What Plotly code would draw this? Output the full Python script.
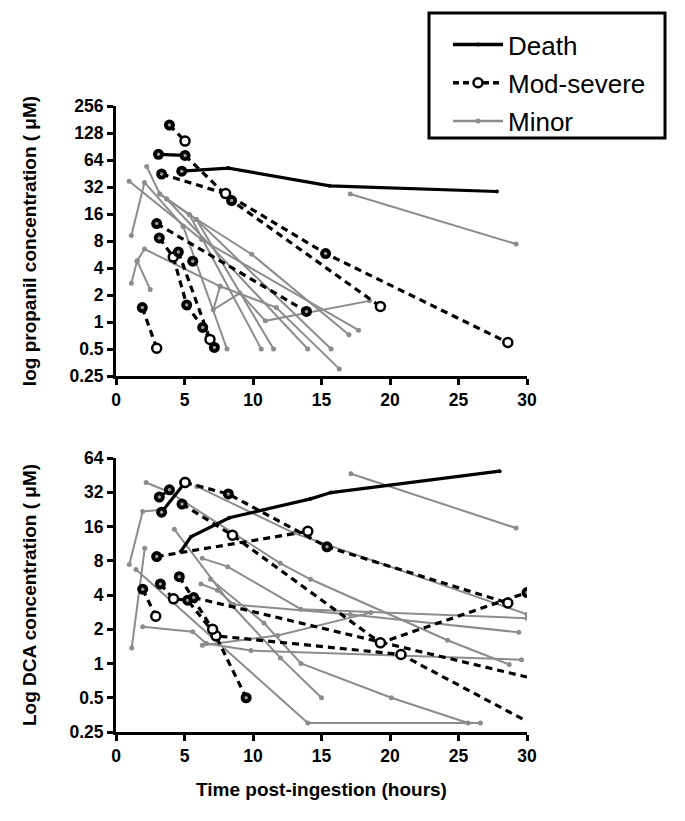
import plotly.graph_objects as go

# ---------------- data: top panel (propanil, uM) ----------------
death_top_t = [[4.8, 8.2, 15.6, 27.8], [3.1, 5.04]]
death_top_v = [[48, 52, 33, 28.5], [74, 72]]
death_top_m = [["f", "d", "d", "d"], ["f", "f"]]

mod_top_t = [[3.9, 5.04], [5.04, 8.44, 19.3], [3.33, 8.0, 15.3, 28.6], [2.97, 13.9],
             [1.92, 2.97], [3.16, 4.18, 5.16, 6.33, 7.18], [4.55, 6.86], [5.6]]
mod_top_v = [[157, 104], [72, 22.6, 1.49], [44.6, 27, 5.8, 0.59], [12.5, 1.31],
             [1.45, 0.51], [8.65, 5.3, 1.55, 0.87, 0.52], [6.05, 0.64], [4.77]]
mod_top_m = [["f", "o"], ["n", "f", "o"], ["f", "o", "f", "o"], ["f", "f"],
             ["f", "o"], ["f", "o", "f", "f", "f"], ["f", "o"], ["f"]]

minor_top_t = [[17.1, 29.2], [0.96, 6.25, 17.7], [1.12, 2.08, 4.9], [2.24, 3.2, 5.35, 9.9, 17.0],
               [3.7, 5.87, 11.5], [3.2, 5.35, 10.6], [3.7, 14.0], [5.87, 15.7], [4.9, 8.1],
               [1.12, 1.54, 2.5], [1.54, 2.08, 7.6, 11.7, 16.3], [7.6, 7.1, 9.05, 10.9, 18.5]]
minor_top_v = [[26.7, 7.4], [37, 8.3, 0.81], [9.2, 36, 11.7], [54, 26.7, 15.8, 5.7, 0.72],
               [23.5, 13.9, 0.5], [26.7, 15.8, 0.5], [23.5, 0.5], [13.9, 0.5], [11.7, 0.5],
               [2.7, 4.8, 2.3], [4.8, 6.5, 2.5, 1.45, 0.3], [2.5, 1.37, 2.1, 1.03, 1.72]]

# ---------------- data: bottom panel (DCA, uM) ----------------
death_bot_t = [[4.74, 5.47, 8.27, 14.2, 15.7, 28.0], [3.33, 5.04]]
death_bot_v = [[9.7, 13, 19.1, 28, 31.8, 49], [21.4, 39]]
death_bot_m = [["d", "d", "d", "d", "d", "d"], ["f", "o"]]

mod_bot_t = [[1.95, 2.9], [3.24, 4.2, 5.23, 7.3, 20.8, 30.0], [4.62, 7.05, 9.5], [5.67, 30.0],
             [2.97, 14.0], [4.82, 8.5, 19.3, 30.0], [5.04, 8.2, 15.4, 28.6], [3.16, 3.9]]
mod_bot_v = [[4.5, 2.6], [5.0, 3.7, 3.6, 1.75, 1.2, 0.31], [5.8, 2.0, 0.5], [3.8, 0.76],
             [8.7, 14.5], [25.2, 13.4, 1.52, 4.2], [39, 30.9, 10.6, 3.4], [29, 33.6]]
mod_bot_m = [["f", "o"], ["f", "o", "f", "o", "o", "n"], ["f", "o", "f"], ["f", "n"],
             ["f", "o"], ["f", "o", "o", "f"], ["o", "f", "f", "o"], ["f", "f"]]

minor_bot_t = [[17.15, 29.2], [0.97, 1.95, 3.3], [1.15, 2.1], [1.46, 14.0, 26.6],
               [1.95, 5.6, 6.6, 9.85, 29.6], [6.2, 7.4, 8.6, 17.1, 29.4], [4.26, 8.4, 12.0, 15.0],
               [6.3, 11.8, 18.6], [2.2, 3.9, 12.0, 14.2, 24.2, 28.7], [5.9, 13.0, 30.0],
               [6.9, 10.8, 13.5, 20.1, 25.7], [6.3, 8.15, 13.5, 30.0]]
minor_bot_v = [[46.5, 15.5], [7.4, 21.7, 22.5], [1.37, 10.3], [6.7, 0.3, 0.3],
               [2.1, 1.9, 1.5, 1.3, 1.08], [5.0, 4.4, 3.3, 2.7, 1.88], [15.1, 3.3, 1.12, 0.5],
               [1.45, 1.76, 2.8], [39, 32, 7.6, 5.5, 1.6, 0.98], [36, 14, 2.7],
               [5.5, 2.27, 1.0, 0.5, 0.3], [8.4, 7.1, 3.0, 2.5]]

top_ticks = [0.25, 0.5, 1, 2, 4, 8, 16, 32, 64, 128, 256]
bot_ticks = [0.25, 0.5, 1, 2, 4, 8, 16, 32, 64]
x_ticks = [0, 5, 10, 15, 20, 25, 30]

legend_names = ["Death", "Mod-severe", "Minor"]

# ---------------- styling ----------------
FONT = "Liberation Sans, Arial, sans-serif"
GRAY = "#8c8c8c"
DASH = "7px,5px"

fig = go.Figure()


def marker_style(kinds):
    size, col, lcol, lw = [], [], [], []
    for k in kinds:
        if k == "f":
            size.append(11); col.append("black"); lcol.append("black"); lw.append(0)
        elif k == "o":
            size.append(9); col.append("white"); lcol.append("black"); lw.append(2.5)
        elif k == "d":
            size.append(4); col.append("black"); lcol.append("black"); lw.append(0)
        else:
            size.append(0.1); col.append("rgba(0,0,0,0)"); lcol.append("rgba(0,0,0,0)"); lw.append(0)
    return dict(symbol="circle", size=size, color=col, opacity=1,
                line=dict(color=lcol, width=lw))


def add_panel(xa, ya, minor_t, minor_v, mod_t, mod_v, mod_m, death_t, death_v, death_m):
    for t, v in zip(minor_t, minor_v):
        fig.add_trace(go.Scatter(x=t, y=v, mode="lines+markers", xaxis=xa, yaxis=ya,
                                 line=dict(color=GRAY, width=2),
                                 marker=dict(size=5, color=GRAY), showlegend=False))
    for t, v in zip(mod_t, mod_v):
        fig.add_trace(go.Scatter(x=t, y=v, mode="lines", xaxis=xa, yaxis=ya,
                                 line=dict(color="black", width=3.2, dash=DASH), showlegend=False))
    for t, v in zip(death_t, death_v):
        fig.add_trace(go.Scatter(x=t, y=v, mode="lines", xaxis=xa, yaxis=ya,
                                 line=dict(color="black", width=3.2), showlegend=False))
    for t, v, m in list(zip(mod_t, mod_v, mod_m)) + list(zip(death_t, death_v, death_m)):
        fig.add_trace(go.Scatter(x=t, y=v, mode="markers", xaxis=xa, yaxis=ya,
                                 marker=marker_style(m), showlegend=False))
        # small gray centre of the filled symbols
        ft = [a for a, k in zip(t, m) if k == "f"]
        fv = [b for b, k in zip(v, m) if k == "f"]
        if ft:
            fig.add_trace(go.Scatter(x=ft, y=fv, mode="markers", xaxis=xa, yaxis=ya,
                                     marker=dict(size=3.5, color="#9a9a9a"), showlegend=False))


add_panel("x", "y", minor_top_t, minor_top_v, mod_top_t, mod_top_v, mod_top_m,
          death_top_t, death_top_v, death_top_m)
add_panel("x2", "y2", minor_bot_t, minor_bot_v, mod_bot_t, mod_bot_v, mod_bot_m,
          death_bot_t, death_bot_v, death_bot_m)

# legend-only entries
fig.add_trace(go.Scatter(x=[None], y=[None], mode="lines+markers", name=legend_names[0],
                         line=dict(color="black", width=3.5), marker=dict(size=4, color="black"),
                         legendgroup="a"))
fig.add_trace(go.Scatter(x=[None], y=[None], mode="lines+markers", name=legend_names[1],
                         line=dict(color="black", width=3.5, dash="6px,4px"),
                         marker=dict(size=9, color="white", line=dict(color="black", width=2.5)),
                         legendgroup="b"))
fig.add_trace(go.Scatter(x=[None], y=[None], mode="lines+markers", name=legend_names[2],
                         line=dict(color=GRAY, width=2.5), marker=dict(size=5, color=GRAY),
                         legendgroup="c"))

# geometry (pixels): plot area x 116..527, y 106..732
L, R, T, B = 116, 685 - 527, 106, 821 - 732
H = 821 - T - B
W = 685 - L - R
top_lo = (732 - 376) / H
bot_hi = (732 - 458) / H

axis_common = dict(showline=True, linecolor="black", linewidth=3, ticks="outside",
                   ticklen=6, tickwidth=3, tickcolor="black", showgrid=False, zeroline=False,
                   tickfont=dict(family=FONT, size=17.5, color="black", weight="bold"))

title_font = dict(family=FONT, size=19, color="black", weight="bold")

fig.update_layout(
    width=685, height=821,
    margin=dict(l=L, r=R, t=T, b=B, autoexpand=False),
    paper_bgcolor="white", plot_bgcolor="white",
    font=dict(family=FONT, color="black"),
    xaxis=dict(domain=[0, 1], anchor="y", range=[0, 30], tickvals=x_ticks, **axis_common),
    yaxis=dict(domain=[top_lo, 1], anchor="x", type="log",
               range=[-0.60206, 2.40824], tickvals=top_ticks,
               ticktext=[str(v) for v in top_ticks],
               title=dict(text="log propanil concentration ( \u03bcM)", standoff=28, font=title_font),
               **axis_common),
    xaxis2=dict(domain=[0, 1], anchor="y2", range=[0, 30], tickvals=x_ticks,
                title=dict(text="Time post-ingestion (hours)", standoff=18, font=title_font),
                **axis_common),
    yaxis2=dict(domain=[0, bot_hi], anchor="x2", type="log",
                range=[-0.60206, 1.80618], tickvals=bot_ticks,
                ticktext=[str(v) for v in bot_ticks],
                title=dict(text="Log DCA concentration ( \u03bcM)", standoff=28, font=title_font),
                **axis_common),
    legend=dict(x=(448 - L) / W, y=(732 - 21) / H, xanchor="left", yanchor="top",
                bgcolor="rgba(0,0,0,0)", borderwidth=0, tracegroupgap=1.5,
                itemwidth=50, font=dict(family=FONT, size=26, color="black")),
    shapes=[dict(type="rect", xref="paper", yref="paper",
                 x0=(429 - L) / W, x1=(665 - L) / W, y0=(732 - 138) / H, y1=(732 - 13) / H,
                 line=dict(color="black", width=3), fillcolor="rgba(0,0,0,0)")],
)

fig.write_html("out.html", config={"displayModeBar": False},
               post_script="document.body.style.margin='0';document.body.style.overflow='hidden';")
